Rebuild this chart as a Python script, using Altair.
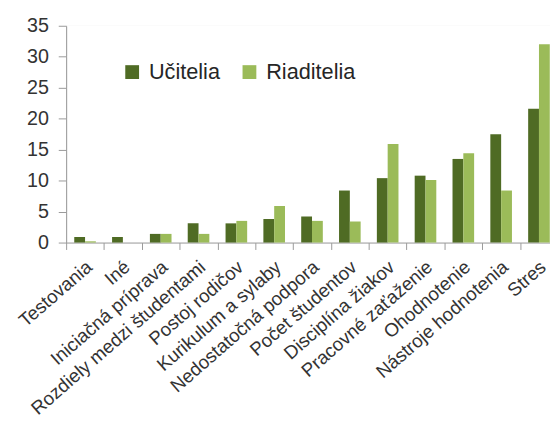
import altair as alt
import pandas as pd

categories = ["Testovania", "Iné", "Iniciačná príprava", "Rozdiely medzi študentami",
              "Postoj rodičov", "Kurikulum a sylaby", "Nedostatočná podpora",
              "Počet študentov", "Disciplína žiakov", "Pracovné zaťaženie",
              "Ohodnotenie", "Nástroje hodnotenia", "Stres"]
ucitelia = [0.9, 0.9, 1.4, 3.1, 3.1, 3.8, 4.2, 8.4, 10.4, 10.8, 13.5, 17.5, 21.6]
riaditelia = [0.2, 0.0, 1.4, 1.4, 3.5, 5.9, 3.5, 3.4, 15.9, 10.1, 14.4, 8.4, 32.0]
series = ["Učitelia", "Riaditelia"]
colors = ["#4f6b24", "#9bbb59"]
y_ticks = [0, 5, 10, 15, 20, 25, 30, 35]

rows = []
for c, u, r in zip(categories, ucitelia, riaditelia):
    rows.append({"cat": c, "ser": series[0], "val": u})
    rows.append({"cat": c, "ser": series[1], "val": r})
df = pd.DataFrame(rows)

FONT = "Liberation Sans"

chart = alt.Chart(df).mark_bar().encode(
    x=alt.X("cat:N", sort=categories,
            scale=alt.Scale(paddingInner=0, paddingOuter=0, range=[0, 499]),
            axis=alt.Axis(title=None, labelAngle=-41, labelAlign="right",
                          labelBaseline="top", labelFontSize=19,
                          labelFont=FONT, labelColor="#333333",
                          labelPadding=8, labelOffset=-2, tickSize=7,
                          tickBand="extent",
                          tickColor="#999999", domainColor="#999999",
                          labelLimit=400, grid=False)),
    xOffset=alt.XOffset("ser:N", sort=series,
                        scale=alt.Scale(paddingInner=0, paddingOuter=0.75)),
    y=alt.Y("val:Q", scale=alt.Scale(domain=[0, 35], nice=False),
            axis=alt.Axis(title=None, values=y_ticks, labelFontSize=20,
                          labelFont=FONT, labelColor="#333333",
                          labelPadding=10, tickSize=8, tickColor="#999999",
                          domainColor="#999999", gridColor="#ffffff",
                          gridWidth=1.5)),
    color=alt.Color("ser:N", sort=series,
                    scale=alt.Scale(domain=series, range=colors),
                    legend=alt.Legend(title=None, orient="none", legendX=45,
                                      legendY=25, direction="horizontal",
                                      fillColor="white", padding=11,
                                      symbolType="square", symbolSize=196,
                                      symbolStrokeWidth=0, labelFontSize=22,
                                      labelFont=FONT, labelColor="#262626",
                                      labelOffset=6, columnPadding=18)),
).properties(
    width=491, height=220,
    autosize=alt.AutoSizeParams(type="none"),
    padding={"left": 59, "top": 15, "right": 0, "bottom": 175},
).configure_view(
    fill="#e8ebda", stroke=None
).configure(background="white")

chart.save("out.html", embed_options={"renderer": "svg", "actions": False})
